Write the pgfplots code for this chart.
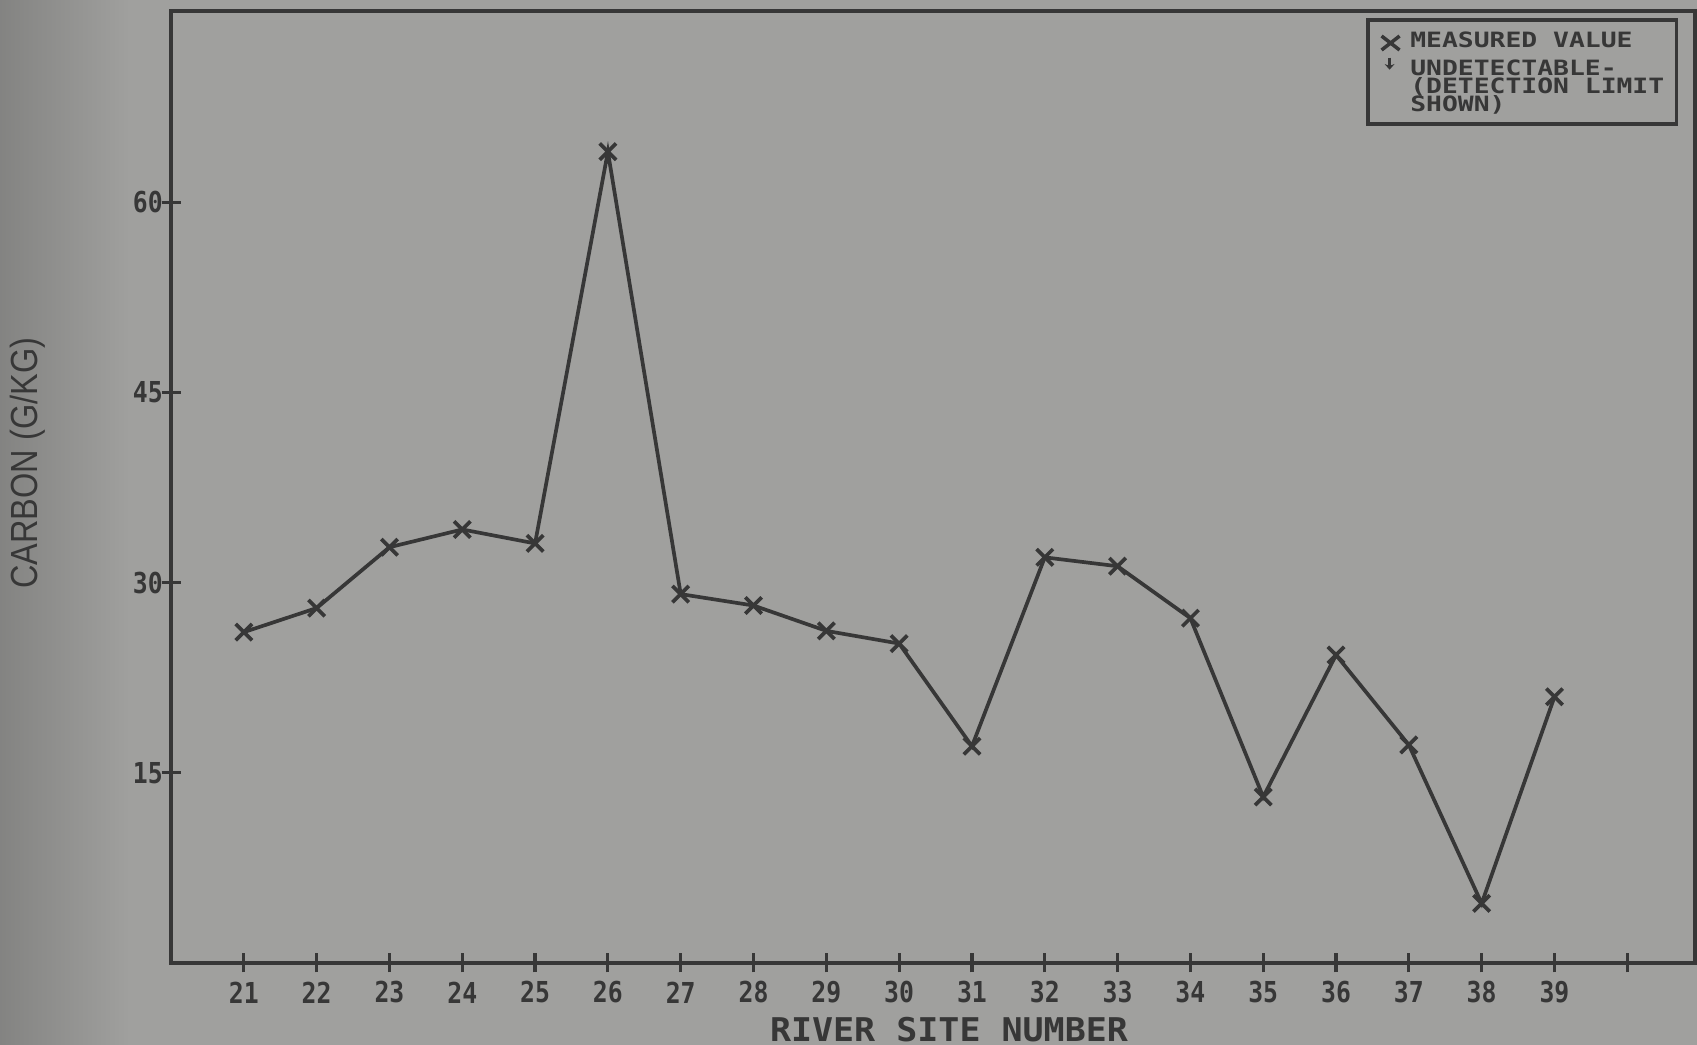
\documentclass[border=0pt]{standalone}
\usepackage{fontspec}
\usepackage{pgfplots}
\pgfplotsset{compat=1.18}
\usetikzlibrary{arrows.meta}
\newfontfamily\tickfont[FakeStretch=0.86]{DejaVu Sans Mono}
\newfontfamily\labfont[FakeStretch=1.07]{DejaVu Sans Mono}
\newfontfamily\ylabfont[FakeStretch=0.86]{Liberation Sans}
\newfontfamily\legfont[FakeStretch=1.25]{DejaVu Sans Mono}
\definecolor{bg}{RGB}{160,160,158}
\definecolor{ink}{RGB}{55,55,55}
\begin{document}
\begin{tikzpicture}
\useasboundingbox (0,0) rectangle (16.97,10.45);
\fill[bg] (0,0) rectangle (16.97,10.45);
\shade[left color=bg!82!black, right color=bg] (0,0) rectangle (1.3,10.45);
\begin{axis}[
  at={(1.71cm,0.82cm)}, anchor=south west,
  scale only axis, width=15.24cm, height=9.52cm,
  xmin=20, xmax=40.93, ymin=0, ymax=75.1,
  axis line style={line width=1.1pt, draw=ink},
  tick pos=left,
  major tick length=0.19cm, tick align=center,
  tick style={line width=0.9pt, draw=ink},
  xtick={21,22,23,24,25,26,27,28,29,30,31,32,33,34,35,36,37,38,39,40},
  xticklabels={21,22,23,24,25,26,27,28,29,30,31,32,33,34,35,36,37,38,39,{}},
  ytick={15,30,45,60},
  yticklabels={15,30,45,60},
  ticklabel style={font=\tickfont\bfseries\fontsize{8.2}{9}\selectfont, text=ink},
  xticklabel style={anchor=center, yshift=-0.2cm},
  yticklabel style={anchor=east, inner sep=0pt, xshift=0.02cm},
  xlabel={RIVER SITE NUMBER},
  xlabel style={at={(axis description cs:0.5105,-0.0704)}, anchor=center, font=\labfont\bfseries\fontsize{9.3}{10}\selectfont, text=ink},
  ylabel={CARBON (G/KG)},
  ylabel style={at={(axis description cs:-0.0938,0.525)}, anchor=center, font=\ylabfont\fontsize{10.75}{12}\selectfont, text=ink},
  legend cell align=left,
  legend style={at={(rel axis cs:1,1)}, anchor=north east, xshift=-0.17cm, yshift=-0.07cm,
    draw=ink, line width=1pt, fill=none, font=\legfont\bfseries\fontsize{6}{6}\selectfont, text=ink,
    inner xsep=0.12cm, inner ysep=0.125cm, row sep=0.025cm, column sep=0.09cm,
    nodes={inner sep=0pt, text height=0.155cm, text depth=0pt}},
]
\addplot[ink, line width=1.05pt, mark=x, mark size=3.3pt, mark options={line width=1.05pt}, forget plot]
coordinates {
(21,26.1) (22,28.0) (23,32.8) (24,34.2) (25,33.1) (26,64.0) (27,29.1) (28,28.2) (29,26.2) (30,25.2)
(31,17.1) (32,32.0) (33,31.3) (34,27.2) (35,13.1) (36,24.3) (37,17.2) (38,4.7) (39,21.0)
};
\addlegendimage{legend image code/.code={\draw[ink,line width=1pt] (0cm,-0.07cm) -- (0.18cm,0.07cm) (0cm,0.07cm) -- (0.18cm,-0.07cm);}}
\addlegendentry[text depth=0.06cm]{MEASURED VALUE}
\addlegendimage{legend image code/.code={\draw[ink,line width=0.8pt,-{Stealth[length=1.6pt,width=2.8pt]}] (0.08cm,0.1cm) -- (0.08cm,-0.02cm);}}
\addlegendentry{UNDETECTABLE-}
\addlegendimage{empty legend}
\addlegendentry{(DETECTION LIMIT\hspace{0.13cm}}
\addlegendimage{empty legend}
\addlegendentry{SHOWN)}
\end{axis}
\end{tikzpicture}
\end{document}
